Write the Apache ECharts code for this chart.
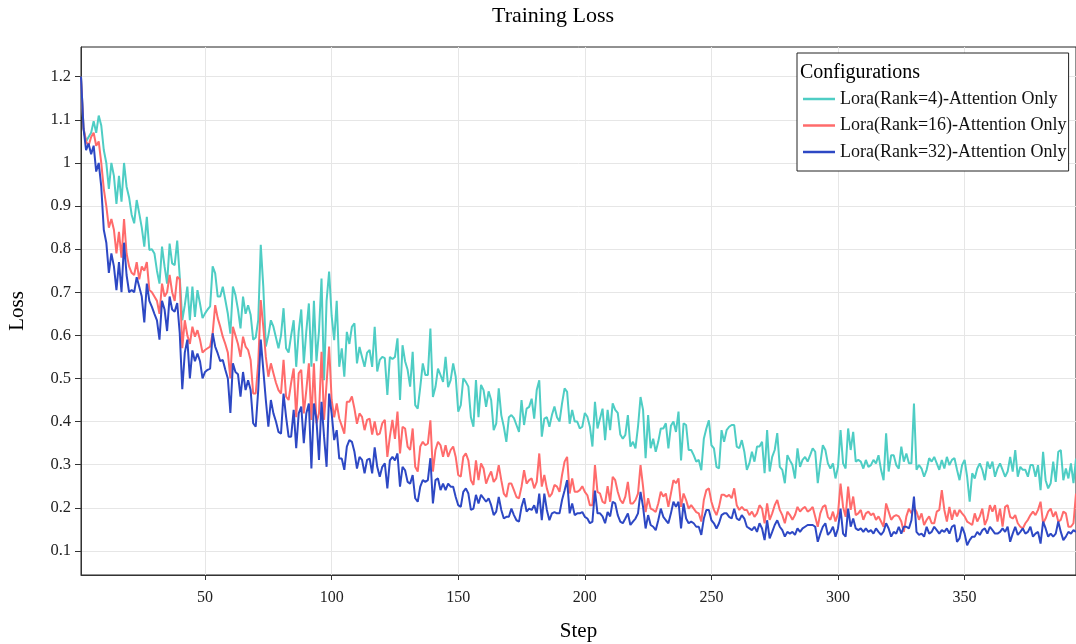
<!DOCTYPE html>
<html>
<head>
<meta charset="utf-8">
<title>Training Loss</title>
<script src="https://cdn.jsdelivr.net/npm/echarts@6/dist/echarts.min.js"></script>
<style>
  html, body { margin: 0; padding: 0; background: #fff; }
  #main { width: 1076px; height: 644px; }
</style>
</head>
<body>
<div id="main"></div>
<script>
// loss per step (step 1..394)
var rank4 = [
  1.20, 1.08, 1.05, 1.06, 1.07, 1.097, 1.07, 1.11, 1.087, 1.03,
  1.00, 0.94, 1.00, 0.97, 0.905, 0.97, 0.91, 1.00, 0.945, 0.92,
  0.88, 0.86, 0.914, 0.883, 0.85, 0.806, 0.875, 0.798, 0.80, 0.79,
  0.75, 0.72, 0.806, 0.76, 0.72, 0.813, 0.767, 0.763, 0.82, 0.736,
  0.635, 0.67, 0.713, 0.635, 0.713, 0.643, 0.705, 0.674, 0.64, 0.651,
  0.66, 0.667, 0.76, 0.744, 0.69, 0.69, 0.713, 0.682, 0.65, 0.604,
  0.713, 0.694, 0.66, 0.616, 0.69, 0.65, 0.67, 0.648, 0.59, 0.595,
  0.635, 0.81, 0.713, 0.574, 0.60, 0.635, 0.62, 0.595, 0.57, 0.60,
  0.663, 0.57, 0.56, 0.60, 0.635, 0.527, 0.61, 0.66, 0.535, 0.61,
  0.674, 0.527, 0.68, 0.54, 0.61, 0.732, 0.496, 0.68, 0.748, 0.645,
  0.589, 0.68, 0.527, 0.57, 0.504, 0.608, 0.58, 0.62, 0.628, 0.535,
  0.573, 0.55, 0.527, 0.56, 0.566, 0.527, 0.62, 0.516, 0.543, 0.55,
  0.547, 0.462, 0.55, 0.545, 0.55, 0.593, 0.45, 0.577, 0.54, 0.52,
  0.481, 0.562, 0.438, 0.43, 0.48, 0.535, 0.508, 0.508, 0.616, 0.457,
  0.48, 0.523, 0.508, 0.492, 0.55, 0.48, 0.496, 0.535, 0.504, 0.423,
  0.438, 0.50, 0.492, 0.481, 0.41, 0.388, 0.496, 0.41, 0.485, 0.473,
  0.434, 0.47, 0.45, 0.38, 0.395, 0.477, 0.415, 0.388, 0.353, 0.41,
  0.415, 0.408, 0.392, 0.376, 0.45, 0.392, 0.43, 0.434, 0.453, 0.407,
  0.473, 0.496, 0.365, 0.407, 0.41, 0.388, 0.415, 0.435, 0.41, 0.40,
  0.442, 0.477, 0.469, 0.395, 0.427, 0.40, 0.40, 0.384, 0.388, 0.42,
  0.411, 0.388, 0.342, 0.446, 0.384, 0.407, 0.43, 0.357, 0.427, 0.38,
  0.442, 0.427, 0.42, 0.37, 0.36, 0.369, 0.415, 0.342, 0.353, 0.338,
  0.388, 0.457, 0.427, 0.315, 0.415, 0.338, 0.36, 0.33, 0.353, 0.384,
  0.384, 0.396, 0.338, 0.39, 0.40, 0.376, 0.423, 0.31, 0.396, 0.392,
  0.334, 0.334, 0.322, 0.307, 0.311, 0.287, 0.36, 0.384, 0.403, 0.345,
  0.338, 0.295, 0.291, 0.38, 0.353, 0.38, 0.388, 0.392, 0.392, 0.342,
  0.338, 0.357, 0.33, 0.288, 0.303, 0.33, 0.307, 0.342, 0.342, 0.353,
  0.28, 0.38, 0.284, 0.318, 0.334, 0.373, 0.295, 0.288, 0.257, 0.322,
  0.31, 0.299, 0.268, 0.338, 0.295, 0.311, 0.318, 0.307, 0.322, 0.338,
  0.33, 0.257, 0.303, 0.345, 0.334, 0.303, 0.291, 0.303, 0.268, 0.295,
  0.38, 0.303, 0.291, 0.384, 0.334, 0.376, 0.307, 0.311, 0.307, 0.291,
  0.311, 0.295, 0.299, 0.311, 0.303, 0.322, 0.288, 0.264, 0.373, 0.284,
  0.322, 0.322, 0.299, 0.291, 0.342, 0.307, 0.326, 0.303, 0.303, 0.442,
  0.288, 0.299, 0.291, 0.272, 0.288, 0.315, 0.307, 0.318, 0.303, 0.288,
  0.311, 0.291, 0.318, 0.299, 0.311, 0.315, 0.288, 0.264, 0.299, 0.311,
  0.272, 0.214, 0.28, 0.268, 0.291, 0.303, 0.288, 0.264, 0.307, 0.291,
  0.307, 0.272, 0.291, 0.303, 0.288, 0.272, 0.284, 0.318, 0.284, 0.334,
  0.272, 0.295, 0.288, 0.288, 0.272, 0.299, 0.299, 0.272, 0.299, 0.241,
  0.33, 0.264, 0.245, 0.257, 0.307, 0.26, 0.33, 0.334, 0.264, 0.291,
  0.268, 0.303, 0.257, 0.314
];
var rank16 = [
  1.20, 1.08, 1.05, 1.04, 1.06, 1.07, 1.04, 1.05, 1.00, 0.94,
  0.90, 0.85, 0.87, 0.845, 0.79, 0.84, 0.78, 0.87, 0.79, 0.76,
  0.745, 0.74, 0.77, 0.73, 0.76, 0.75, 0.77, 0.705, 0.70, 0.69,
  0.68, 0.65, 0.72, 0.69, 0.70, 0.74, 0.70, 0.68, 0.736, 0.73,
  0.57, 0.635, 0.60, 0.58, 0.62, 0.597, 0.612, 0.59, 0.56, 0.566,
  0.57, 0.574, 0.605, 0.67, 0.64, 0.62, 0.597, 0.58, 0.56, 0.50,
  0.62, 0.60, 0.58, 0.55, 0.597, 0.574, 0.566, 0.543, 0.465, 0.465,
  0.535, 0.682, 0.62, 0.55, 0.504, 0.535, 0.512, 0.49, 0.473, 0.465,
  0.543, 0.458, 0.45, 0.49, 0.523, 0.41, 0.512, 0.52, 0.419, 0.473,
  0.535, 0.404, 0.535, 0.396, 0.419, 0.562, 0.404, 0.489, 0.574, 0.45,
  0.41, 0.442, 0.407, 0.39, 0.372, 0.446, 0.446, 0.458, 0.43, 0.395,
  0.419, 0.411, 0.38, 0.404, 0.407, 0.37, 0.40, 0.369, 0.372, 0.396,
  0.404, 0.318, 0.365, 0.404, 0.36, 0.423, 0.326, 0.388, 0.384, 0.342,
  0.334, 0.384, 0.295, 0.284, 0.342, 0.353, 0.345, 0.349, 0.403, 0.284,
  0.334, 0.353, 0.345, 0.318, 0.345, 0.318, 0.334, 0.342, 0.318, 0.276,
  0.272, 0.318, 0.326, 0.31, 0.264, 0.253, 0.31, 0.264, 0.303, 0.291,
  0.256, 0.272, 0.284, 0.26, 0.268, 0.299, 0.264, 0.233, 0.225, 0.256,
  0.256, 0.241, 0.225, 0.222, 0.249, 0.287, 0.256, 0.264, 0.268, 0.245,
  0.26, 0.326, 0.249, 0.276, 0.245, 0.225, 0.233, 0.253, 0.249, 0.237,
  0.276, 0.307, 0.318, 0.233, 0.268, 0.237, 0.237, 0.241, 0.25, 0.237,
  0.229, 0.206, 0.206, 0.299, 0.237, 0.233, 0.214, 0.21, 0.25, 0.214,
  0.272, 0.264, 0.237, 0.218, 0.21, 0.226, 0.26, 0.21, 0.21, 0.218,
  0.233, 0.299, 0.249, 0.19, 0.222, 0.198, 0.195, 0.19, 0.21, 0.237,
  0.226, 0.233, 0.202, 0.233, 0.264, 0.257, 0.268, 0.202, 0.233, 0.218,
  0.198, 0.206, 0.198, 0.19, 0.187, 0.168, 0.218, 0.241, 0.245, 0.214,
  0.195, 0.183, 0.202, 0.23, 0.23, 0.226, 0.23, 0.222, 0.245, 0.206,
  0.195, 0.202, 0.195, 0.195, 0.183, 0.191, 0.179, 0.187, 0.206, 0.198,
  0.164, 0.21, 0.172, 0.187, 0.206, 0.218, 0.195, 0.183, 0.164, 0.191,
  0.183, 0.172, 0.183, 0.202, 0.191, 0.198, 0.202, 0.191, 0.195, 0.202,
  0.179, 0.156, 0.187, 0.202, 0.206, 0.179, 0.172, 0.191, 0.168, 0.187,
  0.256, 0.202, 0.179, 0.249, 0.195, 0.226, 0.183, 0.187, 0.195, 0.172,
  0.187, 0.191, 0.183, 0.187, 0.172, 0.18, 0.168, 0.156, 0.21, 0.191,
  0.172, 0.18, 0.183, 0.18, 0.168, 0.144, 0.18, 0.198, 0.187, 0.202,
  0.191, 0.172, 0.187, 0.16, 0.172, 0.18, 0.164, 0.164, 0.191, 0.195,
  0.241, 0.195, 0.168, 0.202, 0.172, 0.195, 0.18, 0.195, 0.187, 0.18,
  0.168, 0.164, 0.16, 0.187, 0.168, 0.18, 0.198, 0.16, 0.175, 0.206,
  0.191, 0.206, 0.168, 0.198, 0.156, 0.202, 0.206, 0.179, 0.175, 0.183,
  0.164, 0.156, 0.152, 0.164, 0.172, 0.183, 0.191, 0.183, 0.195, 0.214,
  0.164, 0.175, 0.191, 0.198, 0.179, 0.191, 0.168, 0.172, 0.191, 0.187,
  0.156, 0.156, 0.164, 0.233
];
var rank32 = [
  1.20, 1.08, 1.03, 1.045, 1.02, 1.04, 0.98, 1.00, 0.945, 0.845,
  0.815, 0.745, 0.79, 0.76, 0.705, 0.77, 0.70, 0.815, 0.74, 0.70,
  0.705, 0.70, 0.735, 0.713, 0.69, 0.63, 0.72, 0.68, 0.666, 0.65,
  0.635, 0.59, 0.68, 0.66, 0.61, 0.69, 0.66, 0.655, 0.675, 0.605,
  0.475, 0.56, 0.59, 0.50, 0.565, 0.54, 0.558, 0.54, 0.50, 0.515,
  0.52, 0.523, 0.605, 0.574, 0.558, 0.54, 0.543, 0.52, 0.50, 0.42,
  0.535, 0.515, 0.51, 0.458, 0.515, 0.473, 0.496, 0.473, 0.396, 0.388,
  0.473, 0.59, 0.52, 0.45, 0.388, 0.45, 0.419, 0.40, 0.376, 0.372,
  0.465, 0.411, 0.365, 0.365, 0.427, 0.338, 0.419, 0.435, 0.35, 0.419,
  0.442, 0.291, 0.442, 0.404, 0.311, 0.446, 0.365, 0.295, 0.465, 0.419,
  0.357, 0.38, 0.314, 0.314, 0.288, 0.342, 0.357, 0.353, 0.33, 0.291,
  0.318, 0.311, 0.28, 0.311, 0.314, 0.28, 0.34, 0.295, 0.272, 0.295,
  0.303, 0.245, 0.31, 0.318, 0.31, 0.326, 0.249, 0.295, 0.287, 0.26,
  0.256, 0.276, 0.222, 0.214, 0.249, 0.264, 0.26, 0.264, 0.315, 0.21,
  0.264, 0.268, 0.241, 0.256, 0.241, 0.256, 0.249, 0.249, 0.225, 0.206,
  0.202, 0.237, 0.245, 0.233, 0.195, 0.198, 0.23, 0.21, 0.23, 0.222,
  0.214, 0.222, 0.206, 0.183, 0.191, 0.225, 0.195, 0.175, 0.179, 0.179,
  0.198, 0.183, 0.171, 0.168, 0.202, 0.222, 0.191, 0.198, 0.195, 0.206,
  0.187, 0.233, 0.171, 0.233, 0.195, 0.171, 0.187, 0.19, 0.187, 0.187,
  0.218, 0.24, 0.264, 0.187, 0.21, 0.183, 0.187, 0.187, 0.19, 0.179,
  0.175, 0.164, 0.168, 0.24, 0.187, 0.187, 0.18, 0.164, 0.19, 0.18,
  0.214, 0.21, 0.183, 0.168, 0.164, 0.175, 0.187, 0.16, 0.168, 0.175,
  0.187, 0.237, 0.202, 0.152, 0.183, 0.16, 0.156, 0.148, 0.171, 0.198,
  0.179, 0.171, 0.164, 0.187, 0.214, 0.202, 0.214, 0.152, 0.21, 0.175,
  0.164, 0.168, 0.164, 0.156, 0.156, 0.137, 0.175, 0.195, 0.195, 0.171,
  0.164, 0.152, 0.164, 0.183, 0.187, 0.187, 0.179, 0.175, 0.198, 0.175,
  0.171, 0.183, 0.175, 0.156, 0.152, 0.148, 0.156, 0.144, 0.164, 0.152,
  0.125, 0.171, 0.129, 0.144, 0.16, 0.171, 0.156, 0.148, 0.133, 0.144,
  0.14, 0.144, 0.137, 0.152, 0.144, 0.152, 0.156, 0.16, 0.16, 0.16,
  0.156, 0.121, 0.14, 0.156, 0.164, 0.137, 0.144, 0.156, 0.133, 0.152,
  0.198, 0.14, 0.133, 0.198, 0.156, 0.175, 0.152, 0.148, 0.152, 0.144,
  0.152, 0.144, 0.148, 0.14, 0.152, 0.144, 0.137, 0.145, 0.164, 0.152,
  0.133, 0.144, 0.14, 0.156, 0.14, 0.156, 0.156, 0.152, 0.171, 0.226,
  0.144, 0.137, 0.14, 0.133, 0.156, 0.14, 0.144, 0.156, 0.148, 0.14,
  0.148, 0.144, 0.152, 0.14, 0.156, 0.16, 0.121, 0.129, 0.156, 0.14,
  0.113, 0.125, 0.133, 0.133, 0.144, 0.137, 0.148, 0.152, 0.14, 0.156,
  0.148, 0.14, 0.14, 0.144, 0.152, 0.144, 0.156, 0.121, 0.14, 0.156,
  0.137, 0.144, 0.152, 0.14, 0.144, 0.156, 0.133, 0.14, 0.144, 0.117,
  0.168, 0.152, 0.133, 0.14, 0.133, 0.14, 0.168, 0.144, 0.125, 0.133,
  0.144, 0.14, 0.148, 0.144
];

var seriesNames = ['Lora(Rank=4)-Attention Only', 'Lora(Rank=16)-Attention Only', 'Lora(Rank=32)-Attention Only'];
var seriesColors = ['#4ecdc4', '#ff6b6b', '#2d48c4'];

// tick labels
var xTicks = [50, 100, 150, 200, 250, 300, 350];
var yTicks = [0.1, 0.2, 0.3, 0.4, 0.5, 0.6, 0.7, 0.8, 0.9, 1, 1.1, 1.2];

var steps = rank4.map(function (v, i) { return i + 1; });

function pairs(values) {
  return values.map(function (v, i) { return [steps[i], v]; });
}

var font = 'Liberation Serif';
var chart = echarts.init(document.getElementById('main'));

chart.setOption({
  animation: false,
  backgroundColor: '#fff',
  title: {
    text: 'Training Loss',
    left: 487,
    top: 0,
    textStyle: { fontFamily: font, fontSize: 22, fontWeight: 'normal', color: '#000' }
  },
  grid: {
    left: 81, right: 0, top: 47, bottom: 69,
    outerBoundsMode: 'none',
    containLabel: false,
    show: true, borderColor: '#222', borderWidth: 1, backgroundColor: '#fff'
  },
  legend: {
    orient: 'vertical',
    left: 797,
    top: 53,
    padding: [36, 2, 9, 6],
    backgroundColor: '#fff',
    borderColor: '#222',
    borderWidth: 1,
    itemGap: 6.5,
    itemWidth: 32,
    itemHeight: 2.5,
    icon: 'rect',
    textStyle: { fontFamily: font, fontSize: 18, color: '#111', lineHeight: 20 },
    data: seriesNames
  },
  graphic: [{
    type: 'text',
    left: 800,
    top: 63,
    z: 100,
    style: { text: 'Configurations', font: '20px "Liberation Serif"', fill: '#000' }
  }],
  xAxis: {
    type: 'value',
    min: 1,
    max: 394,
    name: 'Step',
    nameLocation: 'middle',
    nameGap: 46,
    nameTextStyle: { fontFamily: font, fontSize: 21, color: '#000' },
    axisLine: { lineStyle: { color: '#333', width: 1 } },
    axisTick: { show: true, length: 5, customValues: xTicks, lineStyle: { color: '#333' } },
    axisLabel: { customValues: xTicks, fontFamily: font, fontSize: 16, color: '#222', margin: 15 },
    splitLine: { show: true, lineStyle: { color: '#e6e6e6', width: 1 } }
  },
  yAxis: {
    type: 'value',
    min: 0.044,
    max: 1.269,
    name: 'Loss',
    nameLocation: 'middle',
    nameGap: 53,
    nameTextStyle: { fontFamily: font, fontSize: 21, color: '#000' },
    axisLine: { show: true, lineStyle: { color: '#333', width: 1 } },
    axisTick: { show: true, length: 6, customValues: yTicks, lineStyle: { color: '#333' } },
    axisLabel: { customValues: yTicks, fontFamily: font, fontSize: 16.5, color: '#222', margin: 10 },
    splitLine: { show: true, lineStyle: { color: '#e6e6e6', width: 1 } }
  },
  series: [rank4, rank16, rank32].map(function (vals, k) {
    return {
      name: seriesNames[k],
      type: 'line',
      data: pairs(vals),
      showSymbol: false,
      symbol: 'none',
      color: seriesColors[k],
      lineStyle: { width: 2, color: seriesColors[k] },
      emphasis: { disabled: true }
    };
  })
});
</script>
</body>
</html>
